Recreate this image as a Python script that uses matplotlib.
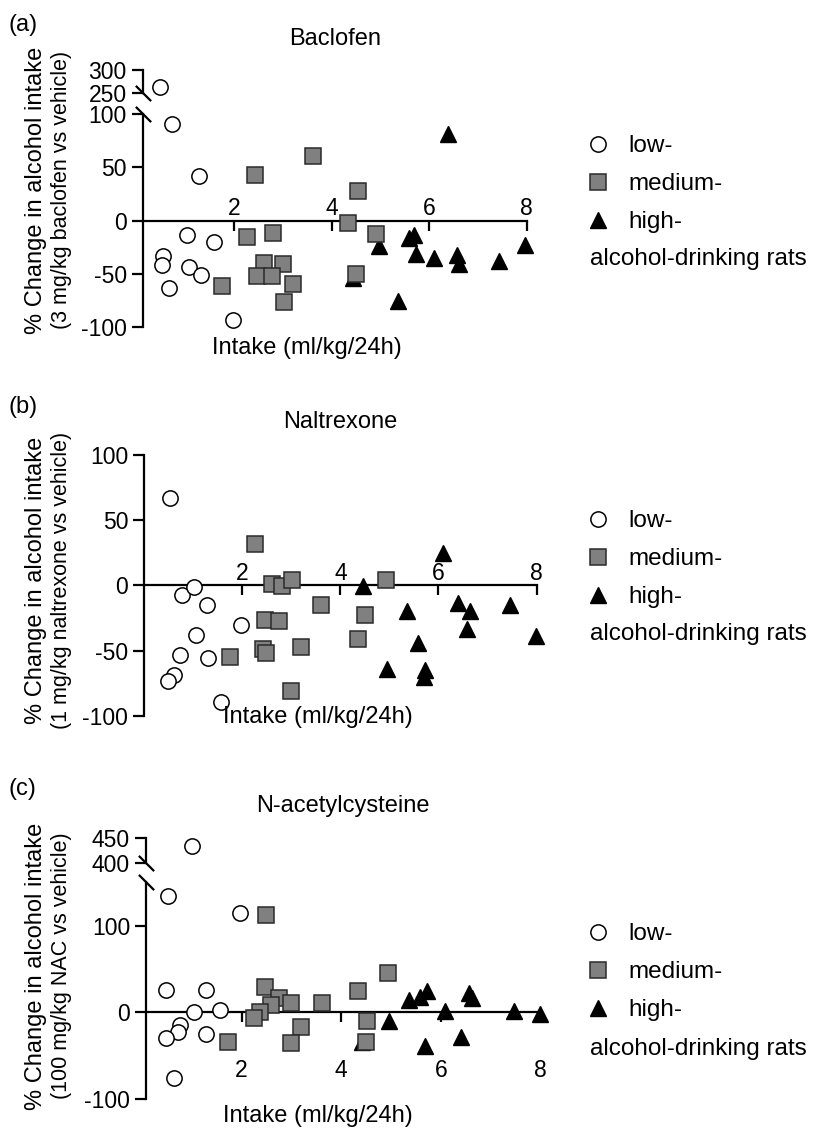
import matplotlib
matplotlib.use("Agg")
import matplotlib.pyplot as plt

plt.rcParams['font.family'] = ['Liberation Sans', 'DejaVu Sans']
plt.rcParams['axes.unicode_minus'] = False

# ---- data: intake (ml/kg/24h) vs % change ----
# (a) baclofen
bac_low_x = [0.47, 0.73, 1.28, 1.02, 1.59, 0.54, 0.51, 1.06, 1.31, 0.65, 1.98]
bac_low_y = [262, 90.6, 42.3, -14.1, -20.7, -33.8, -42.3, -43.8, -51, -63.5, -93.3]
bac_med_x = [2.43, 3.61, 2.27, 2.79, 2.60, 2.99, 2.46, 2.77, 3.20, 3.01, 1.74, 4.53, 4.34, 4.91, 4.50]
bac_med_y = [43, 61, -15.6, -11.9, -40, -40.7, -52.6, -52.6, -59.5, -76.7, -62, 28.2, -2.5, -12.5, -50.4]
bac_high_x = [6.38, 4.96, 5.59, 5.69, 5.73, 6.09, 6.57, 6.62, 7.44, 7.97, 5.35, 4.44]
bac_high_y = [81.5, -24.4, -16.5, -13.4, -31.3, -35.3, -32.2, -40.7, -38.5, -22.8, -76, -54]

# (b) naltrexone
nal_low_x = [0.53, 0.76, 1.02, 1.28, 1.97, 1.05, 0.73, 1.29, 0.61, 0.49, 1.56]
nal_low_y = [67, -7.1, -1.5, -14.8, -30.1, -37.8, -53.1, -55.7, -69, -73.6, -89]
nal_med_x = [2.26, 2.60, 2.80, 3.01, 2.46, 2.75, 2.43, 2.48, 3.20, 1.75, 3.61, 2.99, 4.92, 4.51, 4.36]
nal_med_y = [32, 1, -0.8, 4.4, -26.8, -27.6, -48.5, -51.9, -47.5, -54.9, -14.8, -80.8, 4.4, -23, -40.9]
nal_high_x = [6.09, 4.46, 5.35, 6.40, 6.64, 6.58, 7.46, 5.58, 4.96, 5.72, 5.70, 7.99]
nal_high_y = [24.8, -0.8, -19.9, -13.5, -19.9, -33.2, -14.8, -44.2, -64.1, -64.6, -69.8, -38.6]

# (c) N-acetylcysteine
nac_low_x = [1.0, 0.53, 1.97, 0.48, 1.28, 1.04, 1.57, 0.76, 0.72, 0.48, 1.29, 0.65]
nac_low_y = [433, 134.5, 114.9, 25.7, 25.7, 0.7, 2.7, -14.6, -23.1, -30, -25, -76]
nac_med_x = [2.48, 2.46, 2.76, 2.60, 2.99, 2.37, 2.25, 1.73, 3.19, 2.99, 3.61, 4.93, 4.34, 4.52, 4.50]
nac_med_y = [112.2, 28.8, 16.1, 8.4, 10.4, 0.7, -6.2, -33.9, -17.3, -35.8, 10.4, 45.7, 24.9, -9.7, -34.6]
nac_high_x = [5.36, 5.58, 5.73, 6.57, 6.63, 6.08, 7.47, 4.96, 5.68, 6.40, 4.41, 7.99]
nac_high_y = [14.2, 18, 24.9, 21.9, 16.1, 1.8, 1.8, -9.7, -38.5, -28.8, -34, -2]

x_ticks = [2, 4, 6, 8]
group_labels = ['low-', 'medium-', 'high-']

W, H = 817, 1128
fig = plt.figure(figsize=(W / 100, H / 100), dpi=100)
LW = 1.6


def box(left, right, top, bottom):
    # pixel box -> figure fraction
    return [left / W, 1 - bottom / H, (right - left) / W, (bottom - top) / H]


def scatter_groups(ax, low, med, high, keep):
    hs = []
    for (xs, ys), kw in zip([high, med, low],
                            [dict(marker='^', ms=12, mfc='black', mec='black', zorder=3),
                             dict(marker='s', ms=11, mfc='#808080', mec='#2a2a2a', mew=1.1, zorder=4),
                             dict(marker='o', ms=11, mfc='white', mec='black', mew=1.1, zorder=5)]):
        px = [a for a, b in zip(xs, ys) if keep(b)]
        py = [b for b in ys if keep(b)]
        h, = ax.plot(px, py, ls='none', clip_on=False, **kw)
        hs.append(h)
    return hs[::-1]


def slash(ax, y):
    ax.plot([0], [y], transform=ax.transAxes, marker=[(-1, 1), (1, -1)], ms=11,
            mew=LW, color='black', ls='none', clip_on=False, zorder=6)


def panel(low, med, high, main_box, xmin, ylim, yticks, hide, xpad,
          top_box=None, top_lim=None, top_ticks=None, top_hide=()):
    ax = fig.add_axes(box(*main_box))
    ax.set_xlim(xmin, 8)
    ax.set_ylim(*ylim)
    for s in ['top', 'right']:
        ax.spines[s].set_visible(False)
    ax.spines['bottom'].set_position(('data', 0))
    for s in ['left', 'bottom']:
        ax.spines[s].set_linewidth(LW)
    ax.set_xticks(x_ticks)
    ax.set_yticks(yticks)
    ax.tick_params(axis='y', length=8, width=LW, pad=3.5, labelsize=16.5)
    ax.tick_params(axis='x', length=7, width=LW, pad=xpad, labelsize=16.5)
    for t in ax.yaxis.get_major_ticks():
        if t.get_loc() in hide:
            t.tick1line.set_visible(False)
    handles = scatter_groups(ax, low, med, high, lambda v: v <= ylim[1])

    if top_box is not None:
        slash(ax, 1)
        tax = fig.add_axes(box(*top_box))
        tax.set_xlim(xmin, 8)
        tax.set_ylim(*top_lim)
        tax.patch.set_visible(False)
        for s in ['top', 'right', 'bottom']:
            tax.spines[s].set_visible(False)
        tax.spines['left'].set_linewidth(LW)
        tax.xaxis.set_visible(False)
        tax.set_yticks(top_ticks)
        tax.tick_params(axis='y', length=8, width=LW, pad=3.5, labelsize=16.5)
        for t in tax.yaxis.get_major_ticks():
            if t.get_loc() in top_hide:
                t.tick1line.set_visible(False)
        scatter_groups(tax, low, med, high, lambda v: v > ylim[1])
        slash(tax, 0)
    return ax, handles


def texts(ax, handles, letter, title, title_x, title_y, ylab1, ylab2, ylab_y,
          xlab_x, xlab_y, leg_top, rats_y):
    fig.text(8 / W, 1 - letter[1] / H, letter[0], fontsize=17, va='baseline')
    fig.text(title_x / W, 1 - title_y / H, title, fontsize=17, ha='center', va='baseline')
    fig.text(36 / W, 1 - ylab_y / H, ylab1, fontsize=17, rotation=90, ha='center', va='center')
    fig.text(61 / W, 1 - ylab_y / H, ylab2, fontsize=15.5, rotation=90, ha='center', va='center')
    fig.text(xlab_x / W, 1 - xlab_y / H, 'Intake (ml/kg/24h)', fontsize=17, ha='center', va='baseline')
    ax.legend(handles, group_labels, loc='upper left', bbox_to_anchor=(586 / W, 1 - leg_top / H),
              bbox_transform=fig.transFigure, frameon=False, fontsize=17.5, handlelength=1.0,
              handletextpad=0.75, labelspacing=0.66, borderpad=0, borderaxespad=0)
    fig.text(590 / W, 1 - rats_y / H, 'alcohol-drinking rats', fontsize=17.5, va='center')


# (a)
ax_a, h_a = panel((bac_low_x, bac_low_y), (bac_med_x, bac_med_y), (bac_high_x, bac_high_y),
                  (142.7, 526.7, 114.3, 326.7), 0.12, (-100, 100), [-100, -50, 0, 50, 100], [100], -24,
                  top_box=(142.7, 526.7, 70, 93), top_lim=(250, 300), top_ticks=[250, 300], top_hide=[250])
texts(ax_a, h_a, ('(a)', 31), 'Baclofen', 334.7, 45,
      '% Change in alcohol intake', '(3 mg/kg baclofen vs vehicle)', 190, 307, 354, 135, 259)

# (b)
ax_b, h_b = panel((nal_low_x, nal_low_y), (nal_med_x, nal_med_y), (nal_high_x, nal_high_y),
                  (144.3, 536.5, 455, 715.9), 0.0, (-100, 100), [-100, -50, 0, 50, 100], [], -24)
texts(ax_b, h_b, ('(b)', 413), 'Naltrexone', 340.4, 428,
      '% Change in alcohol intake', '(1 mg/kg naltrexone vs vehicle)', 580, 318, 723, 510, 634)

# (c)
ax_c, h_c = panel((nac_low_x, nac_low_y), (nac_med_x, nac_med_y), (nac_high_x, nac_high_y),
                  (146, 540.4, 882.3, 1099), 0.08, (-100, 150), [-100, 0, 100], [], 26.5,
                  top_box=(146, 540.4, 837.7, 863), top_lim=(400, 450), top_ticks=[400, 450], top_hide=[400])
texts(ax_c, h_c, ('(c)', 795), 'N-acetylcysteine', 343.2, 812,
      '% Change in alcohol intake', '(100 mg/kg NAC vs vehicle)', 966, 318, 1122, 923, 1049)

fig.savefig('out.png', dpi=100)
